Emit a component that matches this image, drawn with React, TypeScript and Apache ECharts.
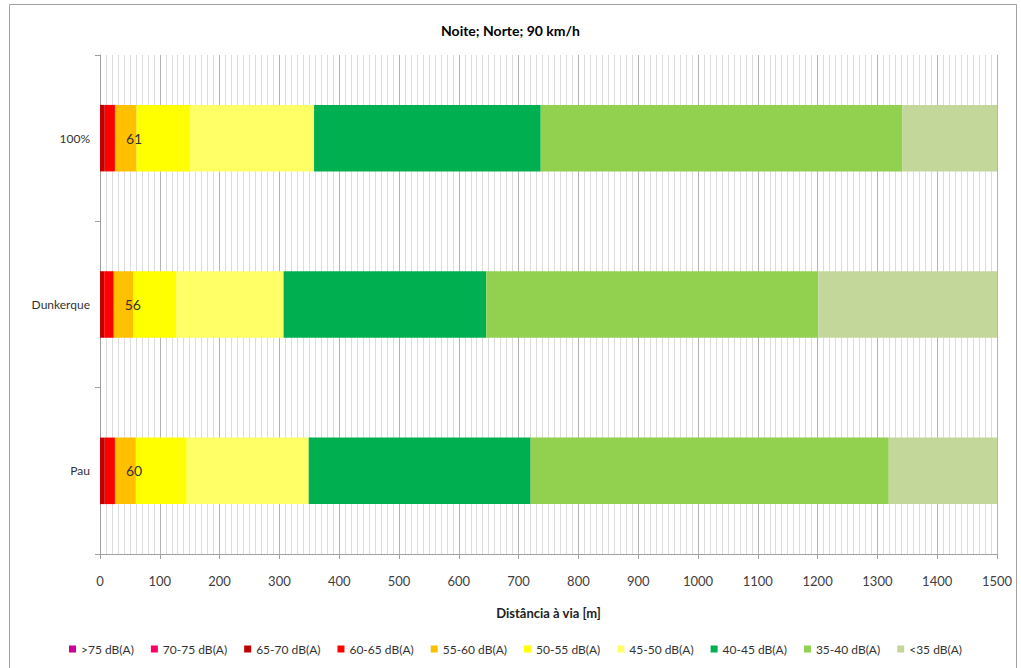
import React, { useEffect, useRef } from "react";
import * as echarts from "echarts";

// Categories from bottom to top of the y axis
const categories = ["Pau", "Dunkerque", "100%"];

// Noise bands (legend order) and their colours
const bandNames = [
  ">75 dB(A)",
  "70-75 dB(A)",
  "65-70 dB(A)",
  "60-65 dB(A)",
  "55-60 dB(A)",
  "50-55 dB(A)",
  "45-50 dB(A)",
  "40-45 dB(A)",
  "35-40 dB(A)",
  "<35 dB(A)",
];
const bandColors = [
  "#CC0099",
  "#FF0066",
  "#C00000",
  "#FF0000",
  "#FFC000",
  "#FFFF00",
  "#FFFF66",
  "#00B050",
  "#92D050",
  "#C4D79B",
];

// Distance to the road (m) at which each band ends, per category (Pau, Dunkerque, 100%)
const endOver75 = [0, 0, 0];
const end70to75 = [0, 0, 0];
const end65to70 = [8, 7, 8];
const end60to65 = [25, 23, 25];
const end55to60 = [60, 56, 61];
const end50to55 = [145, 128, 150];
const end45to50 = [349, 307, 358];
const end40to45 = [720, 646, 737];
const end35to40 = [1319, 1201, 1342];
const endUnder35 = [1500, 1500, 1500];

const bandEnds = [
  endOver75,
  end70to75,
  end65to70,
  end60to65,
  end55to60,
  end50to55,
  end45to50,
  end40to45,
  end35to40,
  endUnder35,
];

const xTicks = { min: 0, max: 1500, interval: 100 };

const FONT = "Lato, 'Open Sans', sans-serif";

export default function App() {
  const ref = useRef<HTMLDivElement>(null);

  useEffect(() => {
    document.body.style.margin = "0";
    if (!ref.current) return;
    const chart = echarts.init(ref.current, undefined, { renderer: "svg" });

    const series = bandNames.map((name, i) => ({
      name,
      type: "bar" as const,
      stack: "dist",
      barWidth: "40%",
      itemStyle: { color: bandColors[i] },
      data: bandEnds[i].map((end, c) => end - (i > 0 ? bandEnds[i - 1][c] : 0)),
      label:
        name === "55-60 dB(A)"
          ? {
              show: true,
              position: "insideLeft" as const,
              offset: [6, 0],
              color: "#333333",
              fontSize: 14,
              fontFamily: FONT,
              formatter: (p: any) => String(bandEnds[i][p.dataIndex]),
            }
          : { show: false },
      emphasis: { disabled: true },
    }));

    chart.setOption({
      animation: false,
      backgroundColor: "#ffffff",
      textStyle: { fontFamily: FONT },
      graphic: [
        {
          type: "rect",
          shape: { x: 9.5, y: 4.5, width: 1007, height: 680 },
          style: { fill: "none", stroke: "#a0a0a0", lineWidth: 1 },
          silent: true,
          z: -1,
        },
      ],
      title: {
        text: "Noite; Norte; 90 km/h",
        left: "center",
        top: 18,
        textStyle: { fontSize: 14, fontWeight: "bold", color: "#000", fontFamily: FONT },
      },
      legend: {
        bottom: 8,
        left: 64,
        itemWidth: 7,
        itemHeight: 7,
        itemGap: 17,
        icon: "rect",
        textStyle: { fontSize: 12, color: "#333", fontFamily: FONT },
        data: bandNames,
      },
      grid: { left: 100, right: 24, top: 55, bottom: 114 },
      xAxis: {
        type: "value",
        min: xTicks.min,
        max: xTicks.max,
        interval: xTicks.interval,
        name: "Distância à via [m]",
        nameLocation: "middle",
        nameGap: 52,
        nameTextStyle: { fontSize: 13, fontWeight: "bold", color: "#222", fontFamily: FONT },
        axisLine: { show: true, lineStyle: { color: "#a0a0a0" } },
        axisTick: { show: true, length: 5, lineStyle: { color: "#a0a0a0" } },
        axisLabel: {
          fontSize: 13,
          color: "#404040",
          margin: 20,
          fontFamily: FONT,
          formatter: (v: number) => String(v),
        },
        splitLine: { show: true, lineStyle: { color: "#b4b4b4", width: 1 } },
        minorTick: { show: false, splitNumber: 10 },
        minorSplitLine: { show: true, lineStyle: { color: "#dcdcdc", width: 1 } },
      },
      yAxis: {
        type: "category",
        data: categories,
        axisLine: { show: true, lineStyle: { color: "#a0a0a0" } },
        axisTick: { show: true, length: 5, lineStyle: { color: "#a0a0a0" } },
        axisLabel: { fontSize: 12, color: "#333", margin: 10, fontFamily: FONT },
        splitLine: { show: false },
      },
      series,
    });

    return () => chart.dispose();
  }, []);

  return <div ref={ref} style={{ width: 1021, height: 668 }} />;
}
